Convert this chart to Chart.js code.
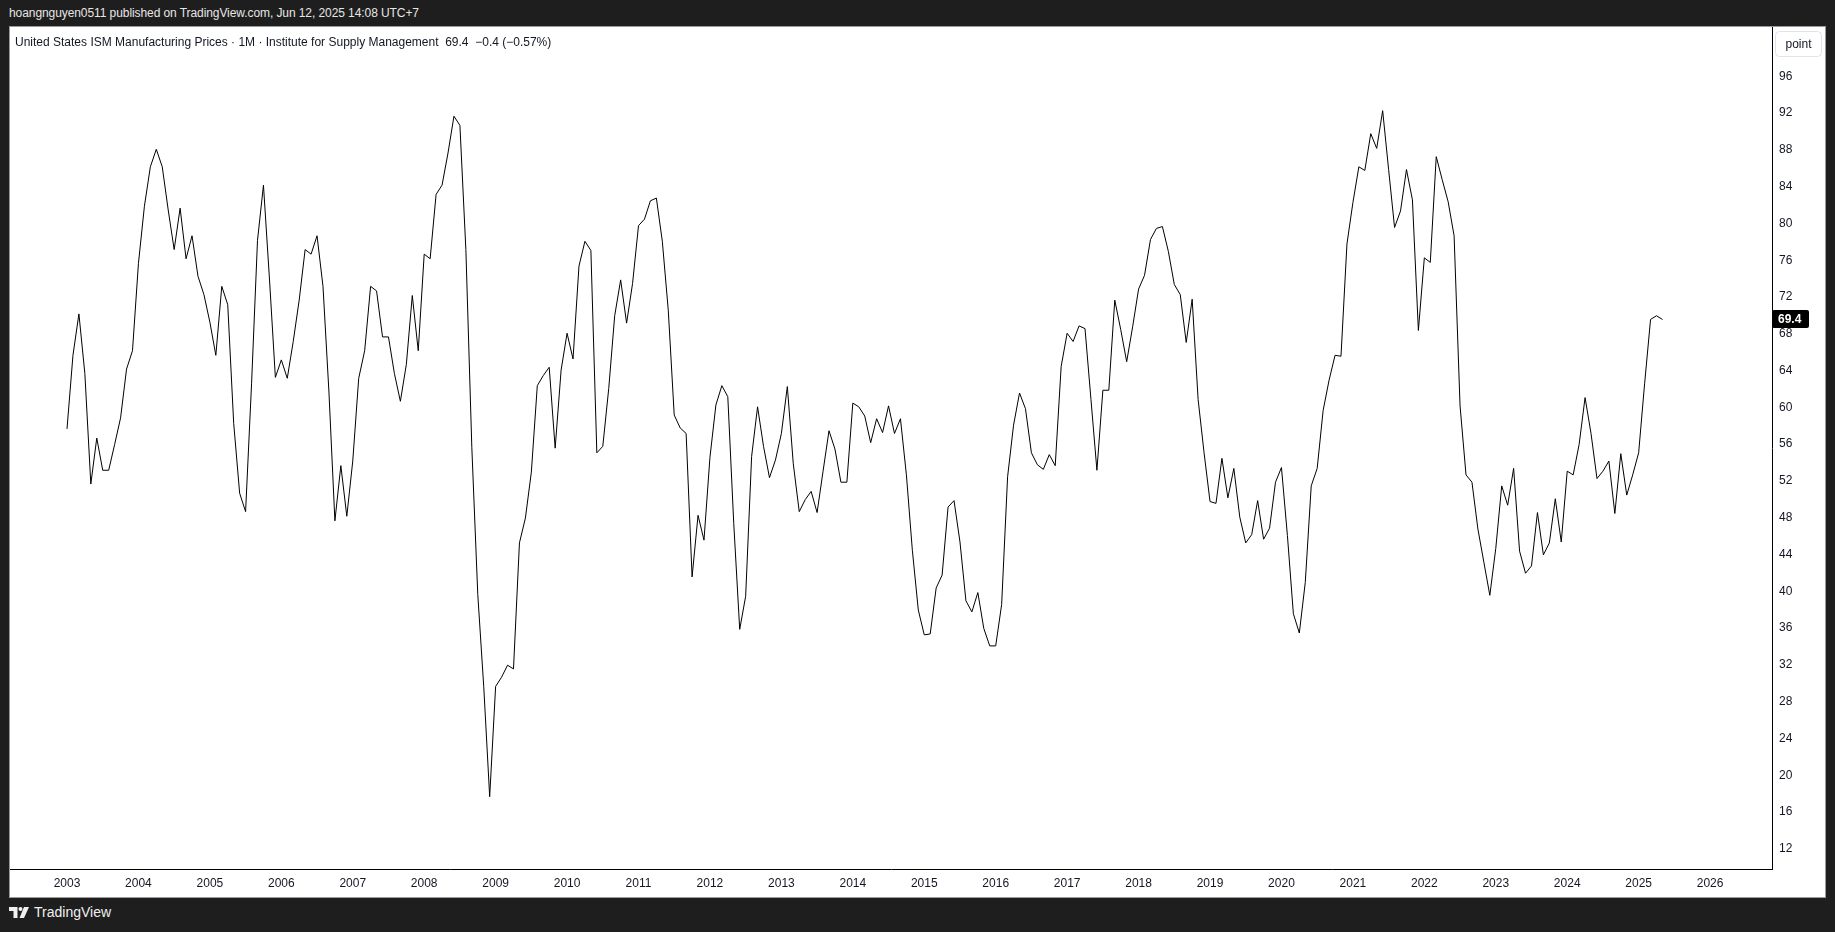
<!DOCTYPE html>
<html>
<head>
<meta charset="utf-8">
<script src="https://cdn.jsdelivr.net/npm/chart.js@4.4.1/dist/chart.umd.min.js"></script>
<style>
  html, body { margin: 0; padding: 0; }
  body { width: 1835px; height: 932px; background: #1e1e1e; overflow: hidden; position: relative;
         font-family: "Liberation Sans", Arial, sans-serif; }
  #header { position: absolute; left: 9px; top: 6px; color: #e6e6e6; font-size: 12px; letter-spacing: -0.08px; white-space: pre; }
  #panel { position: absolute; left: 10px; top: 27px; width: 1815px; height: 870px; background: #fff;
           box-shadow: 0 0 0 1px #9a9a9a; }
  #panel canvas { position: absolute; left: 0; top: 0; }
  #title { position: absolute; left: 5px; top: 8px; color: #131722; font-size: 12px; white-space: pre; }
  #footer { position: absolute; left: 9px; top: 904px; color: #f0f0f0; font-size: 14px; display: flex; align-items: center; }
  #footer svg { margin-right: 4px; }
</style>
</head>
<body>
<div id="header">hoangnguyen0511 published on TradingView.com, Jun 12, 2025 14:08 UTC+7</div>
<div id="panel">
  <canvas id="chart" width="1815" height="870"></canvas>
  <div id="title">United States ISM Manufacturing Prices · 1M · Institute for Supply Management  69.4  −0.4 (−0.57%)</div>
</div>
<div id="footer">
  <svg width="21" height="11" viewBox="0 0 21 11">
    <path d="M0 0h8.5v11h-4v-7h-4.5z" fill="#f0f0f0"/>
    <circle cx="11.5" cy="2" r="2" fill="#f0f0f0"/>
    <path d="M15 0h5l-5 11h-4.5z" fill="#f0f0f0"/>
  </svg>
  <span>TradingView</span>
</div>
<script>
// ISM Manufacturing Prices, monthly, Jan 2003 - May 2025
const y2003 = [57.5, 65.5, 70.0, 63.5, 51.5, 56.5, 53.0, 53.0, 55.8, 58.7, 64.0, 66.0];
const y2004 = [75.5, 81.7, 86.0, 87.9, 86.0, 81.3, 77.0, 81.5, 76.0, 78.5, 74.1, 72.1];
const y2005 = [69.1, 65.5, 73.0, 71.0, 58.1, 50.5, 48.5, 62.4, 78.0, 84.0, 73.9, 63.1];
const y2006 = [65.0, 63.0, 67.0, 71.5, 77.0, 76.5, 78.5, 73.0, 61.5, 47.5, 53.5, 48.0];
const y2007 = [54.0, 63.0, 66.0, 73.0, 72.5, 67.5, 67.5, 63.5, 60.5, 64.5, 72.0, 66.0];
const y2008 = [76.5, 76.0, 83.0, 84.0, 87.5, 91.5, 90.5, 77.0, 55.5, 39.5, 29.5, 17.5];
const y2009 = [29.5, 30.5, 31.8, 31.4, 45.1, 47.8, 52.8, 62.2, 63.3, 64.2, 55.4, 63.9];
const y2010 = [67.9, 65.1, 75.2, 77.9, 76.9, 54.9, 55.6, 61.9, 69.8, 73.7, 69.0, 73.3];
const y2011 = [79.6, 80.3, 82.3, 82.6, 77.9, 70.4, 59.0, 57.6, 57.0, 41.4, 48.1, 45.4];
const y2012 = [54.4, 60.1, 62.2, 61.0, 47.2, 35.7, 39.3, 54.5, 59.9, 55.6, 52.2, 54.1];
const y2013 = [57.0, 62.1, 53.7, 48.5, 49.8, 50.7, 48.4, 52.9, 57.3, 55.3, 51.7, 51.7];
const y2014 = [60.3, 59.9, 58.9, 56.0, 58.6, 57.1, 60.0, 57.0, 58.6, 52.5, 44.3, 37.8];
const y2015 = [35.1, 35.2, 40.2, 41.6, 49.0, 49.7, 45.2, 38.8, 37.6, 39.7, 35.8, 33.9];
const y2016 = [33.9, 38.4, 52.3, 57.9, 61.4, 59.7, 54.9, 53.6, 53.1, 54.7, 53.5, 64.3];
const y2017 = [67.9, 67.0, 68.7, 68.4, 60.7, 53.0, 61.7, 61.7, 71.5, 68.3, 64.8, 68.6];
const y2018 = [72.7, 74.2, 78.1, 79.3, 79.5, 76.8, 73.2, 72.1, 66.9, 71.6, 60.7, 54.9];
const y2019 = [49.6, 49.4, 54.3, 50.0, 53.2, 47.9, 45.1, 46.0, 49.7, 45.5, 46.7, 51.7];
const y2020 = [53.3, 45.9, 37.4, 35.3, 40.8, 51.3, 53.2, 59.5, 62.8, 65.5, 65.4, 77.6];
const y2021 = [82.1, 86.0, 85.6, 89.6, 88.0, 92.1, 85.7, 79.4, 81.2, 85.7, 82.4, 68.2];
const y2022 = [76.1, 75.6, 87.1, 84.6, 82.2, 78.5, 60.0, 52.5, 51.7, 46.6, 43.0, 39.4];
const y2023 = [44.5, 51.3, 49.2, 53.2, 44.2, 41.8, 42.6, 48.4, 43.8, 45.1, 49.9, 45.2];
const y2024 = [52.9, 52.5, 55.8, 60.9, 57.0, 52.1, 52.9, 54.0, 48.3, 54.8, 50.3, 52.5];
const y2025 = [54.9, 62.4, 69.4, 69.8, 69.4];

const yearLabels = ['2003', '2004', '2005', '2006', '2007', '2008', '2009', '2010', '2011', '2012', '2013', '2014',
  '2015', '2016', '2017', '2018', '2019', '2020', '2021', '2022', '2023', '2024', '2025', '2026'];
const priceTicks = [12, 16, 20, 24, 28, 32, 36, 40, 44, 48, 52, 56, 60, 64, 68, 72, 76, 80, 84, 88, 92, 96];
const lastValue = '69.4';
const unitLabel = 'point';

const values = [].concat(y2003, y2004, y2005, y2006, y2007, y2008, y2009, y2010, y2011, y2012, y2013,
  y2014, y2015, y2016, y2017, y2018, y2019, y2020, y2021, y2022, y2023, y2024, y2025);
const points = values.map((v, i) => ({ x: i, y: v }));

const FONT = '"Liberation Sans", Arial, sans-serif';
const INK = '#131722';

function roundRect(ctx, x, y, w, h, r) {
  ctx.beginPath();
  ctx.moveTo(x + r, y);
  ctx.arcTo(x + w, y, x + w, y + h, r);
  ctx.arcTo(x + w, y + h, x, y + h, r);
  ctx.arcTo(x, y + h, x, y, r);
  ctx.arcTo(x, y, x + w, y, r);
  ctx.closePath();
}

const axisExtras = {
  id: 'axisExtras',
  afterDraw(chart) {
    const ctx = chart.ctx;
    const ys = chart.scales.y;
    const area = chart.chartArea;
    ctx.save();
    // unit box at top of price axis
    roundRect(ctx, area.right + 3.5, 4.5, 46, 25, 4);
    ctx.fillStyle = '#fff';
    ctx.fill();
    ctx.strokeStyle = '#e0e3eb';
    ctx.lineWidth = 1;
    ctx.stroke();
    ctx.fillStyle = INK;
    ctx.font = '12px ' + FONT;
    ctx.textAlign = 'center';
    ctx.textBaseline = 'middle';
    ctx.fillText(unitLabel, area.right + 26.5, 17.5);
    // last value badge
    const py = Math.round(ys.getPixelForValue(parseFloat(lastValue)));
    roundRect(ctx, area.right, py - 9, 37, 18, 2);
    ctx.fillStyle = '#000';
    ctx.fill();
    ctx.fillStyle = '#fff';
    ctx.font = 'bold 12px ' + FONT;
    ctx.textAlign = 'left';
    ctx.fillText(lastValue, area.right + 6, py + 0.5);
    ctx.restore();
  }
};

function noPad(scale) {
  scale.paddingTop = 0;
  scale.paddingBottom = 0;
  scale.paddingLeft = 0;
  scale.paddingRight = 0;
}

new Chart(document.getElementById('chart'), {
  type: 'line',
  data: {
    datasets: [{
      data: points,
      borderColor: '#000000',
      borderWidth: 1,
      pointRadius: 0,
      tension: 0,
      fill: false
    }]
  },
  options: {
    responsive: false,
    animation: false,
    devicePixelRatio: 1,
    layout: { padding: 0 },
    plugins: { legend: { display: false }, tooltip: { enabled: false } },
    scales: {
      x: {
        type: 'linear',
        min: -9.575,
        max: 286.4,
        grid: { display: false, drawTicks: false },
        border: { display: true, color: '#000', width: 1 },
        afterBuildTicks: (scale) => { scale.ticks = yearLabels.map((l, k) => ({ value: k * 12 })); },
        afterFit: (scale) => { scale.height = 28; noPad(scale); },
        ticks: {
          autoSkip: false,
          maxRotation: 0,
          padding: 7,
          color: INK,
          font: { family: FONT, size: 12 },
          callback: (v, i) => yearLabels[i]
        }
      },
      y: {
        position: 'right',
        min: 9.64,
        max: 101.2,
        grid: { display: false, drawTicks: false },
        border: { display: true, color: '#000', width: 1 },
        afterBuildTicks: (scale) => { scale.ticks = priceTicks.map(v => ({ value: v })); },
        afterFit: (scale) => { scale.width = 53; noPad(scale); },
        ticks: {
          padding: 7,
          labelOffset: 1.5,
          color: INK,
          font: { family: FONT, size: 12 },
          callback: (v) => String(v)
        }
      }
    }
  },
  plugins: [axisExtras]
});
</script>
</body>
</html>
